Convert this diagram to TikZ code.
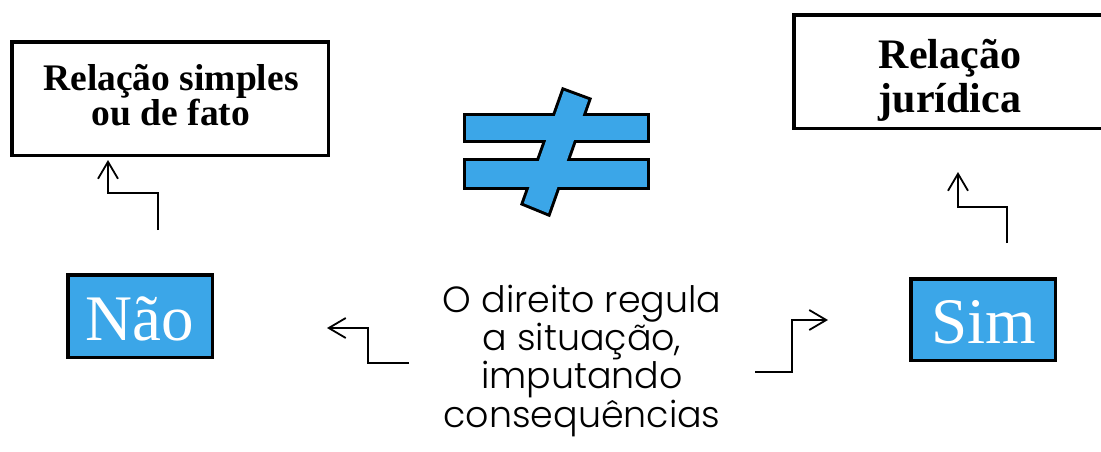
\documentclass[tikz,border=0pt]{standalone}
\usepackage{fontspec}
\setmainfont{Liberation Serif}
\newfontfamily\gothic{Poppins}[UprightFont=* Light]
\usetikzlibrary{arrows.meta}
\definecolor{boxblue}{RGB}{59,166,232}
\begin{document}
\begin{tikzpicture}[x=1pt,y=-1pt,
  wbox/.style={draw=black, line width=3.5pt, fill=white, inner sep=0pt},
  bbox/.style={draw=black, line width=3.5pt, fill=boxblue, inner sep=0pt},
  btext/.style={text=white, inner sep=0pt, anchor=base, font=\fontsize{65}{65}\selectfont},
  wtext/.style={align=center, inner sep=0pt, anchor=base},
  conn/.style={line width=1.8pt, line join=miter,
               -{Straight Barb[length=17pt,width=20pt,line width=1.8pt]}},
  neq/.style={line width=6pt, line join=miter}]
\clip (0,0) rectangle (1101,451);
\fill[white] (0,0) rectangle (1101,451);

% boxes
\node[wbox, minimum width=316.5pt, minimum height=113.5pt] (lbox) at (170,98.5) {};
\node[wtext, font=\bfseries\fontsize{37.5}{35}\selectfont] (ltext) at (171,125)
      {Relação simples\\ou de fato};
\node[wbox, minimum width=312.5pt, minimum height=113.5pt] (rbox) at (950,71.5) {};
\node[wtext, font=\bfseries\fontsize{42}{44}\selectfont] (rtext) at (950,112)
      {Relação\\jurídica};
\node[bbox, minimum width=144.5pt, minimum height=82.5pt] (nao) at (140,316) {};
\node[btext] (naotext) at (140,340) {Não};
\node[bbox, minimum width=144.5pt, minimum height=81.5pt] (sim) at (983,319.5) {};
\node[btext] (simtext) at (984,343) {Sim};

% center text
\node[wtext, font=\gothic\fontsize{36.4}{38.3}\selectfont]
      (txt) at (582,427) {O direito regula\\a situação,\\imputando\\consequências};

% not-equal sign
\draw[neq] (466,116) rectangle (647,140);
\draw[neq] (466,161) rectangle (647,187);
\draw[neq] (563.8,90.8) -- (588.2,99.8) -- (548.2,213.2) -- (523.8,203.2) -- cycle;
\fill[boxblue] (466,116) rectangle (647,140);
\fill[boxblue] (466,161) rectangle (647,187);
\fill[boxblue] (563.8,90.8) -- (588.2,99.8) -- (548.2,213.2) -- (523.8,203.2) -- cycle;

% connectors
\coordinate (l0) at (158,230);  \coordinate (l1) at (108,160);
\coordinate (r0) at (1007,243); \coordinate (r1) at (958,172);
\coordinate (bl0) at (409,363); \coordinate (bl1) at (327,328);
\coordinate (br0) at (755,372); \coordinate (br1) at (828,320);
\draw[conn] (l0) -- ++(0,-37) -| (l1);
\draw[conn] (r0) -- ++(0,-36) -| (r1);
\draw[conn] (bl0) -- ++(-41,0) |- (bl1);
\draw[conn] (br0) -- ++(37,0) |- (br1);
\end{tikzpicture}
\end{document}
